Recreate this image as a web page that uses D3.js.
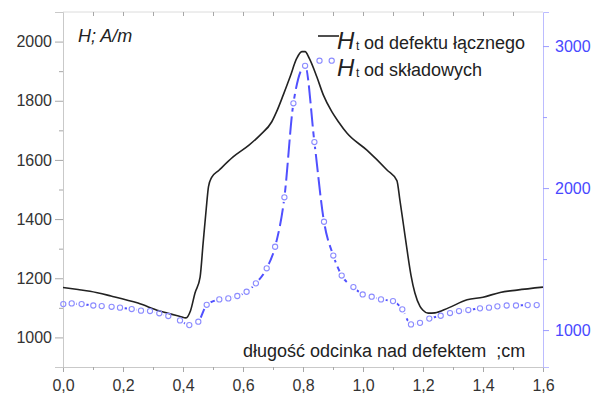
<!DOCTYPE html>
<html>
<head>
<meta charset="utf-8">
<script src="https://cdn.jsdelivr.net/npm/d3@7"></script>
<style>
  html, body { margin: 0; padding: 0; background: #fff; }
  svg { display: block; font-family: "Liberation Sans", Arial, sans-serif; }
</style>
</head>
<body>
<svg id="chart" width="601" height="396"></svg>
<script>
// Position along the section, cm
const totalX = [0.00, 0.05, 0.09, 0.16, 0.25, 0.32, 0.39, 0.41, 0.425, 0.44, 0.457, 0.467, 0.477, 0.485, 0.495,
  0.52, 0.567, 0.62, 0.657, 0.696, 0.712, 0.734, 0.757, 0.779, 0.796, 0.807, 0.821, 0.846, 0.868, 0.896, 0.918,
  0.947, 1.013, 1.08, 1.113, 1.123, 1.135, 1.147, 1.16, 1.173, 1.19, 1.20, 1.217, 1.24, 1.283, 1.347, 1.40,
  1.457, 1.513, 1.60];
// Ht from the combined defect, A/m (left axis)
const totalH = [1169, 1162, 1156, 1140, 1116, 1090, 1071, 1066, 1090, 1150, 1204, 1318, 1430, 1510, 1540,
  1565, 1610, 1650, 1684, 1729, 1763, 1819, 1881, 1943, 1966, 1966, 1943, 1881, 1819, 1763, 1729,
  1690, 1633, 1566, 1530, 1464, 1380, 1295, 1210, 1150, 1105, 1092, 1082, 1083, 1099, 1127, 1136,
  1152, 1160, 1170];

const partsX = [0.001, 0.029, 0.062, 0.101, 0.129, 0.162, 0.19, 0.229, 0.26, 0.29, 0.321, 0.351, 0.39, 0.421,
  0.451, 0.479, 0.521, 0.551, 0.581, 0.612, 0.643, 0.679, 0.707, 0.738, 0.768, 0.807, 0.838, 0.87, 0.901,
  0.929, 0.968, 0.999, 1.029, 1.06, 1.1, 1.131, 1.16, 1.19, 1.221, 1.259, 1.29, 1.32, 1.351, 1.39, 1.42,
  1.448, 1.479, 1.51, 1.549, 1.579];
// Ht from the component defects, A/m (right axis)
const partsH = [1183, 1188, 1183, 1173, 1169, 1164, 1158, 1148, 1137, 1134, 1118, 1099, 1068, 1035,
  1059, 1178, 1216, 1223, 1240, 1270, 1329, 1435, 1587, 1935, 2597, 2861, 2324, 1763, 1525,
  1384, 1303, 1251, 1235, 1216, 1204, 1146, 1040, 1051, 1081, 1101, 1120, 1134, 1141, 1153, 1158,
  1167, 1173, 1173, 1176, 1176];

const xTicks = [0, 0.2, 0.4, 0.6, 0.8, 1.0, 1.2, 1.4, 1.6];
const leftTicks = [1000, 1200, 1400, 1600, 1800, 2000];
const rightTicks = [1000, 2000, 3000];

const svg = d3.select("#chart");
const W = 601, H = 396;
const m = { left: 63, right: 58, top: 12, bottom: 29 };
const x0 = m.left, x1 = W - m.right, y0 = m.top, y1 = H - m.bottom;

const x = d3.scaleLinear().domain([0, 1.6]).range([x0, x1]);
const yL = d3.scaleLinear().domain([900, 2100]).range([y1, y0]);
const yR = d3.scaleLinear().domain([740, 3240]).range([y1, y0]);

const comma = v => d3.format(".1f")(v).replace(".", ",");
const plain = d3.format("d");
const axisGrey = "#c9c9c9";
const tickGrey = "#a8a8a8";
const font = "Liberation Sans, Arial, sans-serif";

// frame: top edge
svg.append("line").attr("x1", x0).attr("x2", x1).attr("y1", y0).attr("y2", y0)
  .attr("stroke", "#dcdcdc").attr("stroke-width", 1);

// bottom axis
const gB = svg.append("g").attr("transform", `translate(0,${y1})`)
  .call(d3.axisBottom(x).tickValues(xTicks).tickFormat(comma).tickSize(5).tickPadding(8));
gB.select(".domain").attr("stroke", axisGrey);
gB.selectAll(".tick line").attr("stroke", tickGrey);
gB.selectAll(".tick text").attr("font-size", 16).attr("fill", "#333").attr("font-family", font);
svg.append("g").attr("transform", `translate(0,${y1})`)
  .call(d3.axisBottom(x).tickValues(d3.range(0.1, 1.6, 0.2)).tickFormat("").tickSize(3))
  .call(g => g.select(".domain").remove())
  .selectAll("line").attr("stroke", tickGrey);

// top axis: inward ticks every 0.1
svg.append("g").attr("transform", `translate(0,${y0})`)
  .call(d3.axisBottom(x).tickValues(d3.range(0.1, 1.55, 0.1)).tickFormat("").tickSize(4))
  .call(g => g.select(".domain").remove())
  .selectAll("line").attr("stroke", tickGrey);

// left axis
const gL = svg.append("g").attr("transform", `translate(${x0},0)`)
  .call(d3.axisLeft(yL).tickValues(leftTicks).tickFormat(plain).tickSize(8).tickPadding(3));
gL.select(".domain").attr("stroke", axisGrey);
gL.selectAll(".tick line").attr("stroke", tickGrey);
gL.selectAll(".tick text").attr("font-size", 16).attr("fill", "#333").attr("font-family", font);
svg.append("g").attr("transform", `translate(${x0},0)`)
  .call(d3.axisLeft(yL).tickValues([1100, 1300, 1500, 1700, 1900]).tickFormat("").tickSize(4))
  .call(g => g.select(".domain").remove())
  .selectAll("line").attr("stroke", tickGrey);

// right axis (blue)
const gR = svg.append("g").attr("transform", `translate(${x1},0)`)
  .call(d3.axisRight(yR).tickValues(rightTicks).tickFormat(plain).tickSize(6).tickPadding(6));
gR.select(".domain").attr("stroke", "#bcbcff");
gR.selectAll(".tick line").attr("stroke", "#9c9cff");
gR.selectAll(".tick text").attr("font-size", 16).attr("fill", "#4848ff").attr("font-family", font);
svg.append("g").attr("transform", `translate(${x1},0)`)
  .call(d3.axisRight(yR).tickValues([1500, 2500]).tickFormat("").tickSize(4))
  .call(g => g.select(".domain").remove())
  .selectAll("line").attr("stroke", "#9c9cff");

// component-defect series: dashed curve broken around its circle markers
const parts = partsX.map((v, i) => [v, partsH[i]]);
const defs = svg.append("defs");
const mask = defs.append("mask").attr("id", "gapMask").attr("maskUnits", "userSpaceOnUse")
  .attr("x", 0).attr("y", 0).attr("width", W).attr("height", H);
mask.append("rect").attr("width", W).attr("height", H).attr("fill", "#fff");
mask.selectAll("circle").data(parts).join("circle")
  .attr("cx", d => x(d[0])).attr("cy", d => yR(d[1])).attr("r", 4.8).attr("fill", "#000");

const lineR = d3.line().x(d => x(d[0])).y(d => yR(d[1])).curve(d3.curveMonotoneX);
svg.append("path").datum(parts)
  .attr("d", lineR).attr("fill", "none")
  .attr("stroke", "#5050ff").attr("stroke-width", 2)
  .attr("stroke-dasharray", "18,5").attr("mask", "url(#gapMask)");

// combined-defect series
const total = totalX.map((v, i) => [v, totalH[i]]);
const lineL = d3.line().x(d => x(d[0])).y(d => yL(d[1])).curve(d3.curveMonotoneX);
svg.append("path").datum(total)
  .attr("d", lineL).attr("fill", "none")
  .attr("stroke", "#222").attr("stroke-width", 1.6);

svg.append("g").selectAll("circle").data(parts).join("circle")
  .attr("cx", d => x(d[0])).attr("cy", d => yR(d[1])).attr("r", 2.6)
  .attr("fill", "none").attr("stroke", "#8c8cff").attr("stroke-width", 1.1);

// unit label
svg.append("text").attr("x", 78).attr("y", 42)
  .attr("font-size", 18).attr("font-style", "italic").attr("fill", "#222")
  .text("H; A/m");

// x-axis title
svg.append("text").attr("x", 243).attr("y", 357)
  .attr("font-size", 18).attr("fill", "#222")
  .text("długość odcinka nad defektem\u00a0 ;cm");

// legend
const leg = svg.append("g");
leg.append("line").attr("x1", 318).attr("x2", 339).attr("y1", 36).attr("y2", 36)
  .attr("stroke", "#222").attr("stroke-width", 1.6);
[319.5, 331.7].forEach(cx => leg.append("circle").attr("cx", cx).attr("cy", 60.7).attr("r", 2.6)
  .attr("fill", "none").attr("stroke", "#8c8cff").attr("stroke-width", 1.1));

const rows = [
  { y: 49, text: "od defektu łącznego" },
  { y: 76, text: "od składowych" }
];
rows.forEach(r => {
  leg.append("text").attr("x", 337).attr("y", r.y).attr("font-size", 24)
    .attr("font-style", "italic").attr("fill", "#222").text("H");
  leg.append("text").attr("x", 356).attr("y", r.y + 1).attr("font-size", 12)
    .attr("fill", "#222").text("t");
  leg.append("text").attr("x", 364).attr("y", r.y).attr("font-size", 18)
    .attr("fill", "#222").text(r.text);
});
</script>
</body>
</html>
